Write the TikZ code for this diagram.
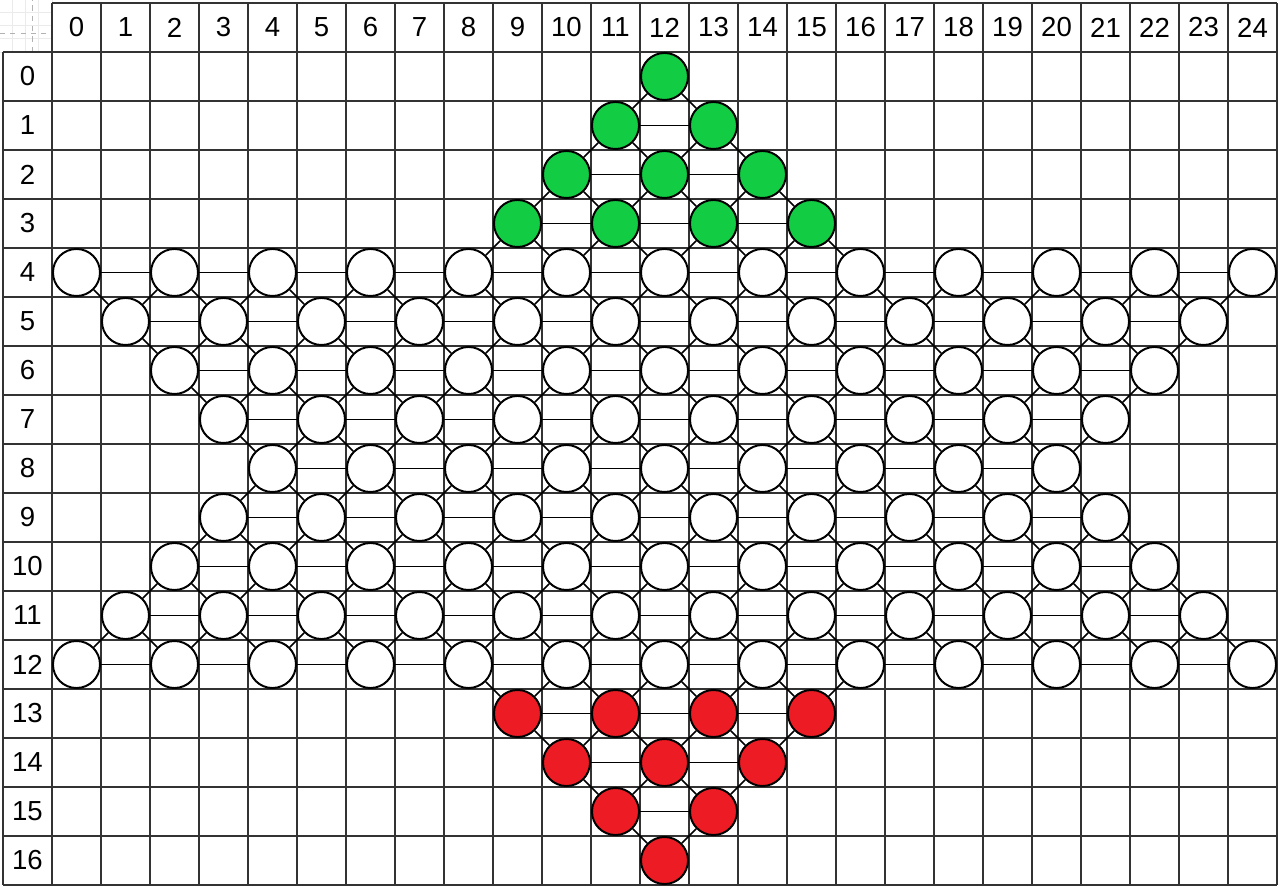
\documentclass[tikz,border=0pt]{standalone}
\usepackage{fontspec}
\setmainfont{Liberation Sans}
\usepackage{xcolor}
\usepackage{tikz}

\definecolor{pegGreen}{RGB}{18,204,68}
\definecolor{pegRed}{RGB}{237,28,36}
\newcommand{\joinpeg}[2]{\ifcsname pgf@sh@ns@#2\endcsname\draw[link] (#1) -- (#2);\fi}

\begin{document}
\begin{tikzpicture}[x=1cm, y=1cm,
		cellline/.style={draw=black!80, line width=0.8pt},
		hole/.style={circle, draw=black, line width=1.15pt, minimum size=0.96cm, inner sep=0pt},
		link/.style={draw=black, line width=0.9pt},
		lbl/.style={font=\fontsize{16}{19}\selectfont}]
		\useasboundingbox (-1.061, -17.02) rectangle (25.061, 1.061);
		
		% faint page grid in the corner
		\draw[black!8, step=0.27] (-1.061, 0) grid (0, 1.061);
		\draw[black!30, dashed] (-0.41, 0) -- (-0.41, 1.061);
		\draw[black!30, dashed] (-1.061, 0.39) -- (0, 0.39);
		
		% table
		\draw[cellline] (0, -17) grid (25, 1);
		\draw[cellline] (-1, -17) grid (0, 0);
		\foreach \c in {0,...,24}
			\node[lbl] (colhead-\c) at (\c+0.5, 0.5) {\c};
		\foreach \r in {0,...,16}
			\node[lbl] (rowhead-\r) at (-0.5, -\r-0.5) {\r};
		
		% holes
		\foreach \r/\colour/\cols in {0/pegGreen/{12}, 1/pegGreen/{11,13}, 2/pegGreen/{10,12,14}, 3/pegGreen/{9,11,13,15},
				4/white/{0,2,...,24}, 5/white/{1,3,...,23}, 6/white/{2,4,...,22}, 7/white/{3,5,...,21}, 8/white/{4,6,...,20},
				9/white/{3,5,...,21}, 10/white/{2,4,...,22}, 11/white/{1,3,...,23}, 12/white/{0,2,...,24},
				13/pegRed/{9,11,13,15}, 14/pegRed/{10,12,14}, 15/pegRed/{11,13}, 16/pegRed/{12}}
			\foreach \c in \cols
				\node[hole, fill=\colour] (h-\r-\c) at (\c+0.5, -\r-0.5) {};
		
		% links to the right and down
		\foreach \r/\cols in {0/{12}, 1/{11,13}, 2/{10,12,14}, 3/{9,11,13,15},
				4/{0,2,...,24}, 5/{1,3,...,23}, 6/{2,4,...,22}, 7/{3,5,...,21}, 8/{4,6,...,20},
				9/{3,5,...,21}, 10/{2,4,...,22}, 11/{1,3,...,23}, 12/{0,2,...,24},
				13/{9,11,13,15}, 14/{10,12,14}, 15/{11,13}, 16/{12}}
			\foreach \c in \cols {
				\pgfmathtruncatemacro{\cnext}{\c+2}
				\pgfmathtruncatemacro{\cleft}{\c-1}
				\pgfmathtruncatemacro{\cright}{\c+1}
				\pgfmathtruncatemacro{\rnext}{\r+1}
				\joinpeg{h-\r-\c}{h-\r-\cnext}
				\joinpeg{h-\r-\c}{h-\rnext-\cleft}
				\joinpeg{h-\r-\c}{h-\rnext-\cright}
			}
	\end{tikzpicture}
\end{document}
